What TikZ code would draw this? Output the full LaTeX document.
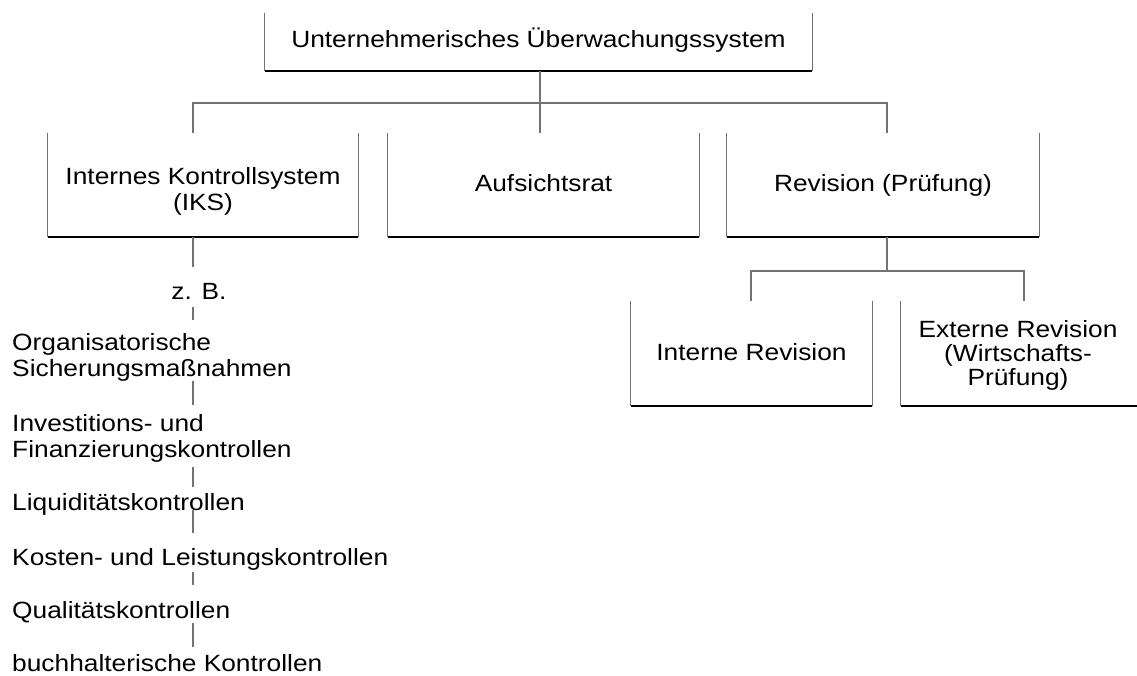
\documentclass[tikz,border=0pt]{standalone}
\usepackage{fontspec}
\setmainfont{Liberation Sans}[FakeStretch=1.12]
\usetikzlibrary{calc}
\newcommand\ubx[1]{%
  \draw[uside] (#1.north west) -- (#1.south west);
  \draw[uside] (#1.north east) -- (#1.south east);
  \draw[ubase] (#1.south west) -- (#1.south east);}
\newcommand\itm[1]{\begin{tabular}[t]{@{}l@{}}#1\end{tabular}}
\begin{document}
\begin{tikzpicture}[x=1pt,y=-1pt,
  lbl/.style={font=\fontsize{23.5}{26}\selectfont, inner sep=0pt, text=black},
  ubox/.style={lbl, align=center},
  item/.style={lbl, anchor=base west},
  uside/.style={draw=black!55, line width=1.2pt},
  ubase/.style={draw=black, line width=2.5pt},
  conn/.style={draw=black!55, line width=1.4pt}]
\useasboundingbox (0,0) rectangle (1137,675);
\fill[white] (0,0) rectangle (1137,675);

% boxes (U-shaped frames)
\node[ubox, minimum width=547pt, minimum height=58pt] (top) at (538.5,42) {};
\node[ubox, minimum width=310pt, minimum height=104pt] (iks) at (203,185) {};
\node[ubox, minimum width=311pt, minimum height=104pt] (auf) at (543.5,185) {};
\node[ubox, minimum width=312pt, minimum height=104pt] (rev) at (883,185) {};
\node[ubox, minimum width=241pt, minimum height=105pt] (irev) at (751.5,353.5) {};
\node[ubox, minimum width=234pt, minimum height=105pt] (erev) at (1018,353.5) {};

% box texts
\node[ubox] (topt) at ($(top.center)+(0,-2)$) {Unternehmerisches Überwachungssystem};
\node[ubox] (ikst) at ($(iks.center)+(0,6)$) {Internes Kontrollsystem\\(IKS)};
\node[ubox] (auft) at ($(auf.center)+(0,-2)$) {Aufsichtsrat};
\node[ubox] (revt) at ($(rev.center)+(0,0)$) {Revision (Prüfung)};
\node[ubox] (irevt) at ($(irev.center)+(0,-1)$) {Interne Revision};
\node[ubox] (erevt) at ($(erev.center)+(0,2)$) {Externe Revision\\[-2pt](Wirtschafts-\\[-2pt]Prüfung)};

\ubx{top}
\ubx{iks}
\ubx{auf}
\ubx{rev}
\ubx{irev}
\draw[uside] (erev.north west) -- (erev.south west);
\draw[ubase] (erev.south west) -- ($(erev.south east)+(30,0)$);

% list
\node[lbl, anchor=base] (zb) at (199,299) {\itm{z. B.}};
\node[item] (org) at (12,350) {\itm{Organisatorische\\Sicherungsmaßnahmen}};
\node[item] (inv) at (12,431) {\itm{Investitions- und\\Finanzierungskontrollen}};
\node[item] (liq) at (12,510) {\itm{Liquiditätskontrollen}};
\node[item] (kos) at (12,565) {\itm{Kosten- und Leistungskontrollen}};
\node[item] (qual) at (12,618) {\itm{Qualitätskontrollen}};
\node[item] (buch) at (12,671) {\itm{buchhalterische Kontrollen}};

% connector columns
\coordinate (c1) at (193,103);
\coordinate (c2) at (540,103);
\coordinate (c3) at (887,103);
\coordinate (d1) at (751,271);
\coordinate (d3) at (1024,271);

\draw[conn] (top.south -| c2) -- (c2 |- auf.north);
\draw[conn] (c1 |- iks.north) -- (c1) -- (c3) -- (c3 |- rev.north);
\draw[conn] (rev.south -| c3) -- (c3 |- d1);
\draw[conn] (d1 |- irev.north) -- (d1) -- (d3) -- (d3 |- erev.north);

\draw[conn, shorten >=13.8pt] (iks.south -| c1) -- (zb.north -| c1);
\draw[conn, shorten >=11.8pt] (zb.south -| c1) -- (org.north -| c1);
\draw[conn, shorten <=-2.8pt, shorten >=7.8pt] (org.south -| c1) -- (inv.north -| c1);
\draw[conn, shorten <=2.2pt, shorten >=4.8pt] (inv.south -| c1) -- (liq.north -| c1);
\draw[conn, shorten <=-7.8pt, shorten >=13.8pt] (liq.south -| c1) -- (kos.north -| c1);
\draw[conn, shorten <=-0.8pt, shorten >=14.8pt] (kos.south -| c1) -- (qual.north -| c1);
\draw[conn, shorten <=-2.8pt, shorten >=5.8pt] (qual.south -| c1) -- (buch.north -| c1);
\end{tikzpicture}
\end{document}
